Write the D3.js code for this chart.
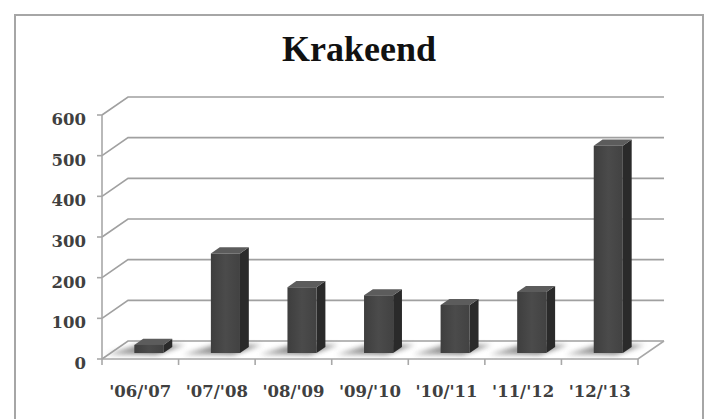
<!DOCTYPE html>
<html>
<head>
<meta charset="utf-8">
<title>Krakeend</title>
<script src="https://d3js.org/d3.v7.min.js"></script>
<style>
    body{ margin:0; background:#fff; }
    .frame{ fill:#fff; stroke:#a6a6a6; stroke-width:2; }
    .title{ font-family:"Liberation Serif", serif; font-weight:bold; font-size:36px; fill:#111; }
    .lbl{ font-family:"DejaVu Serif", serif; font-weight:bold; font-size:16.5px; fill:#404040; }
    .grid{ fill:none; stroke:#a0a0a0; stroke-width:1.6; }
    .axisline{ fill:none; stroke:#a8a8a8; stroke-width:1.6; }
</style>
</head>
<body>
<div id="vis"></div>
<script>

    // data
    var seasons = ["'06/'07", "'07/'08", "'08/'09", "'09/'10", "'10/'11", "'11/'12", "'12/'13"];
    var counts  = [20, 245, 162, 142, 118, 150, 510];
    var yTicks  = [0, 100, 200, 300, 400, 500, 600];

    var W = 712, H = 419;

    // front plane of the 3D box + depth offset
    var x0 = 102, x1 = 638, yBot = 359, yTop = 115;
    var DX = 26, DY = 18;
    var zA = 0.33, zB = 0.67;   // bar depth range
    var barFrac = 0.38;

    var svg = d3.select("#vis").append("svg")
            .attr("width", W)
            .attr("height", H);

    var defs = svg.append("defs");
    defs.append("filter").attr("id", "blur")
        .attr("x", "-50%").attr("y", "-50%").attr("width", "200%").attr("height", "200%")
        .append("feGaussianBlur").attr("stdDeviation", 2.5);

    var grad = defs.append("linearGradient").attr("id", "frontFill")
        .attr("x1", 0).attr("x2", 1).attr("y1", 0).attr("y2", 0);
    grad.append("stop").attr("offset", "0%").attr("stop-color", "#3e3e3e");
    grad.append("stop").attr("offset", "50%").attr("stop-color", "#4b4b4b");
    grad.append("stop").attr("offset", "100%").attr("stop-color", "#424242");

    var sgrad = defs.append("linearGradient").attr("id", "shadowFill")
        .attr("x1", 0).attr("x2", 1).attr("y1", 0).attr("y2", 0);
    sgrad.append("stop").attr("offset", "0%").attr("stop-color", "#aaa");
    sgrad.append("stop").attr("offset", "60%").attr("stop-color", "#666");
    sgrad.append("stop").attr("offset", "100%").attr("stop-color", "#888");

    svg.append("rect").attr("class", "frame")
        .attr("x", 15).attr("y", 15).attr("width", 688).attr("height", 430);

    svg.append("text").attr("class", "title")
        .attr("x", 359).attr("y", 61)
        .attr("text-anchor", "middle")
        .text("Krakeend");

    var x = d3.scaleBand().domain(seasons).range([x0, x1]).paddingInner(0).paddingOuter(0);
    var y = d3.scaleLinear().domain([0, 600]).range([yBot, yTop]);

    // oblique projection: (x on front plane, y on front plane, depth 0..1)
    function P(px, py, z){ return [px + z * DX, py - z * DY]; }
    function poly(pts){ return pts.map(function(p){ return p.join(","); }).join(" "); }

    var back = svg.append("g");
    var floor = svg.append("g");
    var marks = svg.append("g");
    var labels = svg.append("g");

    // gridlines: from front axis diagonally back, then across the back wall
    back.selectAll(".grid").data(yTicks).enter().append("polyline")
        .attr("class", "grid")
        .attr("points", function(d){
            return poly([P(x0, y(d), 0), P(x0, y(d), 1), P(x1, y(d), 1)]);
        });

    // floor edges (front + right)
    floor.append("polyline").attr("class", "axisline")
        .attr("points", poly([P(x0, yBot, 0), P(x1, yBot, 0), P(x1, yBot, 1)]));

    // front value axis
    floor.append("line").attr("class", "axisline")
        .attr("x1", x0).attr("x2", x0).attr("y1", y(600)).attr("y2", yBot);
    floor.selectAll(".ytick").data(yTicks).enter().append("line")
        .attr("class", "axisline")
        .attr("x1", x0 - 5).attr("x2", x0)
        .attr("y1", function(d){ return y(d); })
        .attr("y2", function(d){ return y(d); });

    // category ticks at band edges
    var edges = seasons.map(function(s){ return x(s); }).concat([x1]);
    floor.selectAll(".xtick").data(edges).enter().append("line")
        .attr("class", "axisline")
        .attr("x1", function(d){ return d; }).attr("x2", function(d){ return d; })
        .attr("y1", yBot).attr("y2", yBot + 6);

    var bw = x.bandwidth();
    function bx(s){ return x(s) + bw * (1 - barFrac) / 2; }

    var data = seasons.map(function(s, i){ return {s: s, v: counts[i]}; });

    // soft shadows on the floor, cast towards the front-left
    marks.selectAll(".shadow").data(data).enter().append("polygon")
        .attr("points", function(d){
            var a = bx(d.s), b = a + bw * barFrac;
            return poly([P(a - 26, yBot, zA - 0.08), P(b - 4, yBot, zA - 0.08),
                         P(b + 10, yBot, zB + 0.12), P(a - 8, yBot, zB + 0.12)]);
        })
        .attr("fill", "url(#shadowFill)")
        .attr("opacity", 0.85)
        .attr("filter", "url(#blur)");

    var bars = marks.selectAll(".bar").data(data).enter().append("g");

    // side face
    bars.append("polygon")
        .attr("fill", "#2a2a2a")
        .attr("points", function(d){
            var b = bx(d.s) + bw * barFrac;
            return poly([P(b, y(d.v), zA), P(b, y(d.v), zB), P(b, yBot, zB), P(b, yBot, zA)]);
        });
    // top face
    bars.append("polygon")
        .attr("fill", "#5c5c5c")
        .attr("points", function(d){
            var a = bx(d.s), b = a + bw * barFrac;
            return poly([P(a, y(d.v), zA), P(b, y(d.v), zA), P(b, y(d.v), zB), P(a, y(d.v), zB)]);
        });
    // front face
    bars.append("polygon")
        .attr("fill", "url(#frontFill)")
        .attr("points", function(d){
            var a = bx(d.s), b = a + bw * barFrac;
            return poly([P(a, y(d.v), zA), P(b, y(d.v), zA), P(b, yBot, zA), P(a, yBot, zA)]);
        });

    // value labels
    labels.selectAll(".ylab").data(yTicks).enter().append("text")
        .attr("class", "lbl")
        .attr("x", 86)
        .attr("y", function(d){ return y(d) + 10; })
        .attr("text-anchor", "end")
        .text(function(d){ return d; });

    // category labels
    labels.selectAll(".xlab").data(seasons).enter().append("text")
        .attr("class", "lbl")
        .attr("x", function(d){ return x(d) + bw / 2; })
        .attr("y", 397)
        .attr("text-anchor", "middle")
        .text(function(d){ return d; });

</script>
</body>
</html>
